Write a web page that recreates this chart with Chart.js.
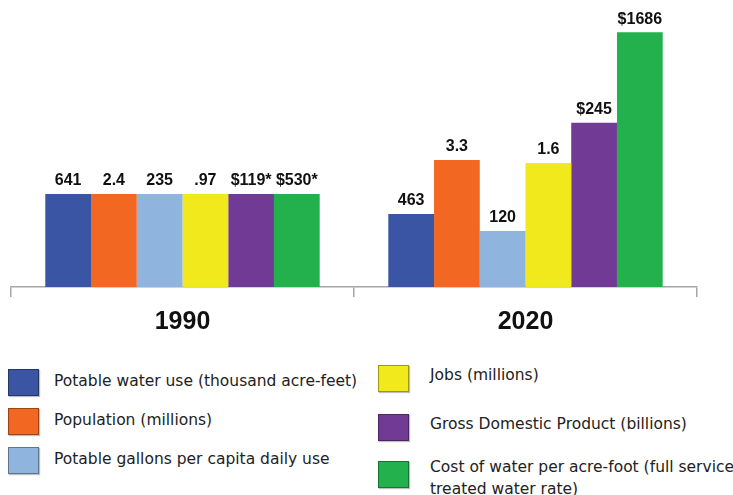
<!DOCTYPE html>
<html>
<head>
<meta charset="utf-8">
<script src="https://cdn.jsdelivr.net/npm/chart.js@4"></script>
<style>
  body { margin: 0; background: #fff; width: 733px; height: 495px; overflow: hidden; position: relative; }
  #wrap { position: absolute; left: 0; top: 0; width: 733px; height: 350px; }
  .lg { position: absolute; font-family: 'DejaVu Sans', Verdana, sans-serif; font-size: 15.5px; color: #222; line-height: 22px; white-space: nowrap; }
  .sw { position: absolute; width: 31px; height: 27px; box-sizing: border-box; border: 1px solid rgba(0,0,0,0.35); box-shadow: 1px 1px 1px rgba(0,0,0,0.25); }
</style>
</head>
<body>
<div id="wrap"><canvas id="c"></canvas></div>
<div id="legend"></div>
<script>
// categories and series
const years = ['1990', '2020'];
const seriesNames = [
  'Potable water use (thousand acre-feet)',
  'Population (millions)',
  'Potable gallons per capita daily use',
  'Jobs (millions)',
  'Gross Domestic Product (billions)',
  'Cost of water per acre-foot (full service\ntreated water rate)'
];
const seriesColors = ['#3A55A4', '#F26722', '#8FB4DE', '#F1E91C', '#703A95', '#23B14D'];

// bar heights as drawn (1990 = 100 for every series)
const index1990 = [100, 100, 100, 100, 100, 100];
const index2020 = [78.5, 136.6, 60.2, 133.3, 176.7, 274];

// value labels printed on top of the bars
const labels1990 = ['641', '2.4', '235', '.97', '$119*', '$530*'];
const labels2020 = ['463', '3.3', '120', '1.6', '$245', '$1686'];

const datasets = seriesNames.map(function(name, i) {
  return {
    label: name,
    data: [index1990[i], index2020[i]],
    valueLabels: [labels1990[i], labels2020[i]],
    backgroundColor: seriesColors[i],
    borderWidth: 0,
    barPercentage: 1,
    categoryPercentage: 0.8
  };
});

const barLabels = {
  id: 'barLabels',
  afterDatasetsDraw: function(chart) {
    const ctx = chart.ctx;
    ctx.save();
    ctx.font = "bold 16px 'Liberation Sans', Arial, sans-serif";
    ctx.fillStyle = '#111';
    ctx.textAlign = 'center';
    ctx.textBaseline = 'bottom';
    chart.data.datasets.forEach(function(ds, i) {
      chart.getDatasetMeta(i).data.forEach(function(bar, j) {
        ctx.fillText(ds.valueLabels[j], bar.x, bar.y - 5);
      });
    });
    ctx.restore();
  }
};

new Chart(document.getElementById('c').getContext('2d'), {
  type: 'bar',
  data: { labels: years, datasets: datasets },
  plugins: [barLabels],
  options: {
    responsive: true,
    maintainAspectRatio: false,
    animation: false,
    layout: { padding: { left: 11, right: 36, top: 8, bottom: 3 } },
    plugins: {
      legend: { display: false },
      tooltip: { enabled: false }
    },
    scales: {
      x: {
        grid: { drawOnChartArea: false, drawTicks: true, tickLength: 10, color: '#a6a6a6', lineWidth: 1.5 },
        border: { display: true, color: '#a6a6a6', width: 1.5 },
        ticks: {
          padding: 10,
          color: '#111',
          font: { family: "'Liberation Sans', Arial, sans-serif", size: 25, weight: 'bold' }
        }
      },
      y: {
        display: false,
        min: 0,
        max: 300
      }
    }
  }
});

// two-column legend under the chart
const legendPos = [
  { x: 8, y: 369, tx: 54, ty: 370 },
  { x: 8, y: 408, tx: 54, ty: 409 },
  { x: 8, y: 447, tx: 54, ty: 448 },
  { x: 378, y: 365, tx: 430, ty: 364 },
  { x: 378, y: 414, tx: 430, ty: 413 },
  { x: 378, y: 461, tx: 430, ty: 456 }
];
const legend = document.getElementById('legend');
seriesNames.forEach(function(name, i) {
  const p = legendPos[i];
  const sw = document.createElement('div');
  sw.className = 'sw';
  sw.style.left = p.x + 'px';
  sw.style.top = p.y + 'px';
  sw.style.background = seriesColors[i];
  legend.appendChild(sw);
  const t = document.createElement('div');
  t.className = 'lg';
  t.style.left = p.tx + 'px';
  t.style.top = p.ty + 'px';
  name.split('\n').forEach(function(line, k) {
    if (k > 0) t.appendChild(document.createElement('br'));
    t.appendChild(document.createTextNode(line));
  });
  legend.appendChild(t);
});
</script>
</body>
</html>
